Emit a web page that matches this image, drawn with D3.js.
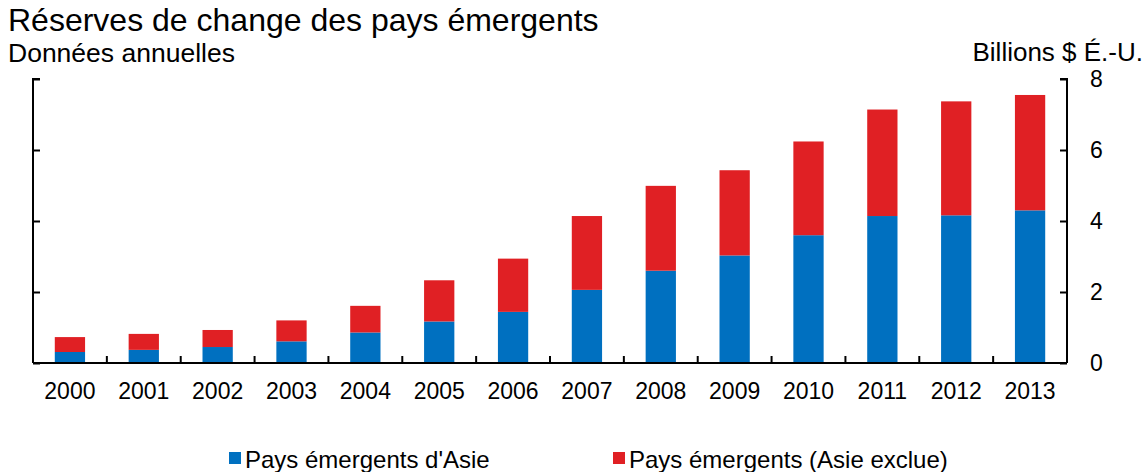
<!DOCTYPE html>
<html><head><meta charset="utf-8">
<script src="https://cdn.jsdelivr.net/npm/d3@7"></script>
<style>body{margin:0;background:#fff}svg{display:block}text{font-family:"Liberation Sans",Arial,sans-serif;fill:#000}</style>
</head><body><svg id="c" width="1148" height="472"></svg>
<script>
const years = ["2000","2001","2002","2003","2004","2005","2006","2007","2008","2009","2010","2011","2012","2013"];
const asia = [0.31,0.37,0.45,0.61,0.86,1.17,1.44,2.06,2.60,3.03,3.60,4.14,4.16,4.30];
const exAsia = [0.42,0.45,0.48,0.59,0.75,1.16,1.50,2.08,2.39,2.40,2.64,3.00,3.21,3.25];
const seriesNames = ["Pays émergents d'Asie","Pays émergents (Asie exclue)"];
const colors = ["#0070c0","#e02024"];
const yTicks = [0,2,4,6,8];

const svg = d3.select("#c");
const L = 33, R = 1067, T = 79, B = 363;
const x = d3.scaleBand().domain(years).range([L,R]).paddingInner(0.59).paddingOuter(0.295);
const y = d3.scaleLinear().domain([0,8]).range([B,T]);

const rows = years.map((yr,i)=>({year:yr, a:asia[i], b:exAsia[i]}));
const stack = d3.stack().keys(["a","b"])(rows);

svg.append("g").selectAll("g").data(stack).join("g").attr("fill",(d,i)=>colors[i])
  .selectAll("rect").data(d=>d).join("rect")
  .attr("x",d=>x(d.data.year)).attr("width",x.bandwidth())
  .attr("y",d=>y(d[1])).attr("height",d=>y(d[0])-y(d[1]));

// left axis
const la = svg.append("g").attr("transform",`translate(${L},0)`)
  .call(d3.axisRight(y).tickValues(yTicks).tickSize(7).tickFormat(""));
// right axis
const ra = svg.append("g").attr("transform",`translate(${R},0)`)
  .call(d3.axisLeft(y).tickValues(yTicks).tickSize(7).tickFormat(""));
[la,ra].forEach(g=>{g.select(".domain").attr("stroke","#000").attr("stroke-width",2);
  g.selectAll(".tick line").attr("stroke","#000").attr("stroke-width",2);});
ra.selectAll(".domain").attr("d",`M-7,${T}H0V${B}`);
la.selectAll(".domain").attr("d",`M7,${T}H0V${B}`);

// right labels
svg.append("g").selectAll("text").data(yTicks).join("text")
  .attr("x",1090).attr("y",d=>y(d)).attr("dy","0.35em").attr("font-size",23).text(d=>d);

// bottom axis
const step = x.step();
const bounds = years.slice(1).map((yr)=>x(yr) - x.paddingInner()*step/2);
svg.append("line").attr("x1",L).attr("x2",R).attr("y1",B).attr("y2",B).attr("stroke","#000").attr("stroke-width",2);
svg.append("g").selectAll("line").data(bounds).join("line")
  .attr("x1",d=>d).attr("x2",d=>d).attr("y1",B).attr("y2",B-7).attr("stroke","#000").attr("stroke-width",2);
svg.append("g").selectAll("text").data(years).join("text")
  .attr("x",d=>x(d)+x.bandwidth()/2).attr("y",399).attr("text-anchor","middle").attr("font-size",23).text(d=>d);

// titles
svg.append("text").attr("x",8).attr("y",31).attr("font-size",32).text("Réserves de change des pays émergents");
svg.append("text").attr("x",8).attr("y",62).attr("font-size",26.5).text("Données annuelles");
svg.append("text").attr("x",1143).attr("y",61).attr("text-anchor","end").attr("font-size",26).text("Billions $ É.-U.");

// legend
const legX = [229,613];
const lg = svg.append("g").selectAll("g").data(seriesNames).join("g")
  .attr("transform",(d,i)=>`translate(${legX[i]},0)`);
lg.append("rect").attr("x",0).attr("y",452).attr("width",12).attr("height",12).attr("fill",(d,i)=>colors[i]);
lg.append("text").attr("x",16).attr("y",468).attr("font-size",24).text(d=>d);
</script></body></html>
